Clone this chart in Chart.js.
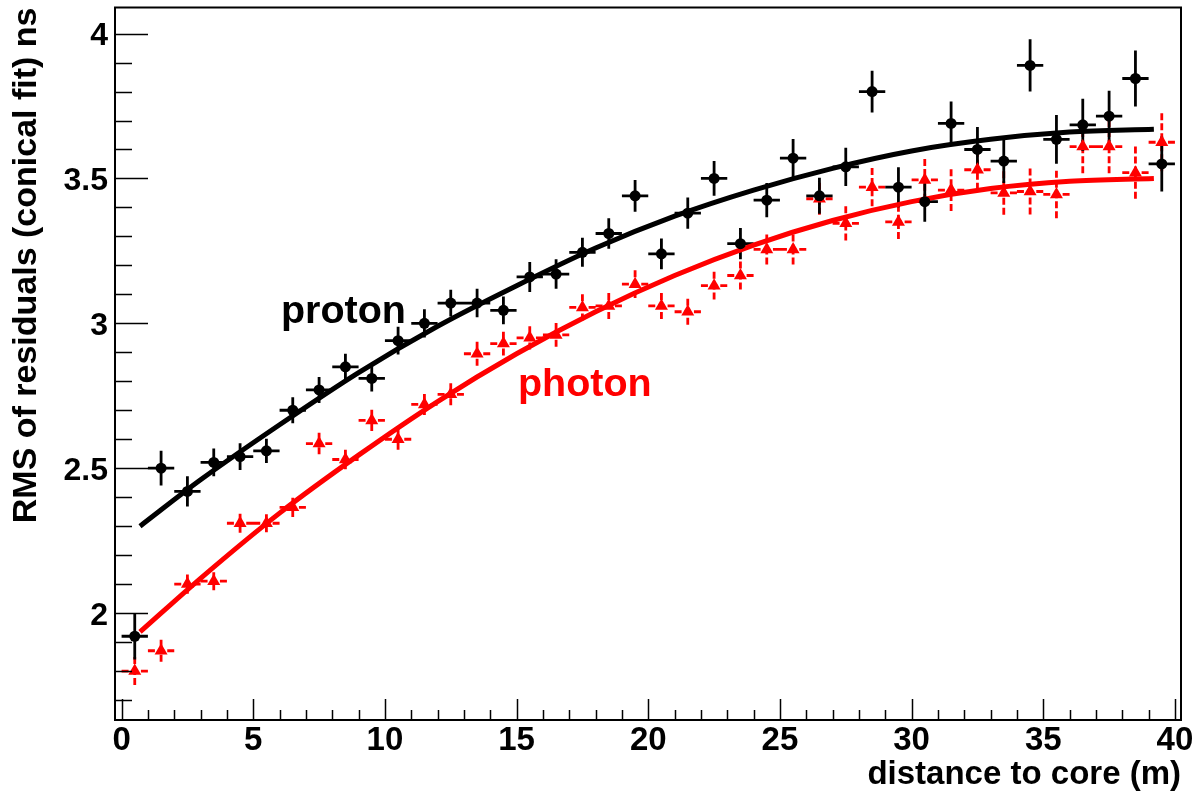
<!DOCTYPE html>
<html>
<head>
<meta charset="utf-8">
<title>RMS of residuals vs distance to core</title>
<script src="https://cdn.jsdelivr.net/npm/chart.js@4.4.1/dist/chart.umd.min.js"></script>
<style>
  html, body { margin: 0; padding: 0; background: #fff; }
  #wrap { position: relative; width: 1196px; height: 793px; }
</style>
</head>
<body>
<div id="wrap"><canvas id="rmsChart"></canvas></div>
<script>
// bin centres, distance to core (m)
const binCenters = [0.5, 1.5, 2.5, 3.5, 4.5, 5.5, 6.5, 7.5, 8.5, 9.5,
                    10.5, 11.5, 12.5, 13.5, 14.5, 15.5, 16.5, 17.5, 18.5, 19.5,
                    20.5, 21.5, 22.5, 23.5, 24.5, 25.5, 26.5, 27.5, 28.5, 29.5,
                    30.5, 31.5, 32.5, 33.5, 34.5, 35.5, 36.5, 37.5, 38.5, 39.5];
const binHalfWidth = 0.5;

// proton: RMS of residuals (ns) and its error
const protonRms = [1.92, 2.50, 2.42, 2.52, 2.54, 2.56, 2.70, 2.77, 2.85, 2.81,
                   2.94, 3.00, 3.07, 3.07, 3.045, 3.16, 3.17, 3.245, 3.31, 3.44,
                   3.24, 3.38, 3.50, 3.275, 3.425, 3.57, 3.44, 3.54, 3.80, 3.47,
                   3.42, 3.69, 3.60, 3.56, 3.89, 3.635, 3.685, 3.715, 3.845, 3.55];
const protonErr = [0.080, 0.060, 0.052, 0.048, 0.046, 0.042, 0.045, 0.045, 0.045, 0.045,
                   0.048, 0.049, 0.046, 0.049, 0.048, 0.052, 0.051, 0.050, 0.053, 0.055,
                   0.053, 0.054, 0.060, 0.054, 0.059, 0.066, 0.062, 0.066, 0.072, 0.069,
                   0.069, 0.076, 0.078, 0.076, 0.090, 0.084, 0.090, 0.088, 0.097, 0.095];

// photon
const photonRms = [1.80, 1.87, 2.10, 2.11, 2.31, 2.31, 2.365, 2.585, 2.53, 2.665,
                   2.60, 2.72, 2.755, 2.895, 2.93, 2.95, 2.96, 3.055, 3.06, 3.135,
                   3.06, 3.04, 3.13, 3.165, 3.255, 3.255, 3.43, 3.345, 3.47, 3.35,
                   3.495, 3.46, 3.53, 3.45, 3.455, 3.445, 3.61, 3.61, 3.52, 3.625];
const photonErr = [0.048, 0.038, 0.033, 0.031, 0.033, 0.031, 0.033, 0.037, 0.034, 0.037,
                   0.036, 0.036, 0.038, 0.041, 0.041, 0.040, 0.041, 0.045, 0.045, 0.048,
                   0.045, 0.045, 0.048, 0.048, 0.052, 0.052, 0.055, 0.059, 0.066, 0.059,
                   0.072, 0.072, 0.069, 0.075, 0.079, 0.082, 0.092, 0.092, 0.090, 0.100];

// fitted curves
const fitX      = [0.7, 3, 6, 9, 12, 15, 18, 21, 24, 27, 30, 33, 36, 39.2];
const protonFit = [2.30, 2.46, 2.65, 2.83, 2.99, 3.13, 3.26, 3.37, 3.46, 3.535, 3.595, 3.635, 3.66, 3.67];
const photonFit = [1.935, 2.12, 2.345, 2.545, 2.73, 2.895, 3.04, 3.165, 3.27, 3.355, 3.42, 3.465, 3.49, 3.50];

// axis ticks
const xMajorTicks = [0, 5, 10, 15, 20, 25, 30, 35, 40];
const xTickLabels = ['0', '5', '10', '15', '20', '25', '30', '35', '40'];
const yMajorTicks = [2, 2.5, 3, 3.5, 4];
const yTickLabels = ['2', '2.5', '3', '3.5', '4'];

// text labels in the plot (data coordinates)
const seriesNames = [
    { text: 'proton', x: 6.05, y: 3.0, color: '#000000' },
    { text: 'photon', x: 15.05, y: 2.748, color: '#ff0000' }
];

const FONT = '"Liberation Sans", Arial, Helvetica, sans-serif';

function toPoints(xs, ys) {
    return xs.map((v, i) => ({ x: v, y: ys[i] }));
}

// error bars (ROOT style crosses) + frame with inward ticks
const rootStyle = {
    id: 'rootStyle',
    beforeDatasetsDraw(chart) {
        const { ctx, chartArea, scales: { x, y } } = chart;
        ctx.save();
        ctx.beginPath();
        ctx.rect(chartArea.left, chartArea.top, chartArea.right - chartArea.left, chartArea.bottom - chartArea.top);
        ctx.clip();
        drawErrors(ctx, x, y, photonRms, photonErr, '#ff0000', [7, 3]);
        drawErrors(ctx, x, y, protonRms, protonErr, '#000000', []);
        ctx.restore();
    },
    afterDatasetsDraw(chart) {
        const { ctx, chartArea: a, scales: { x, y } } = chart;
        ctx.save();
        ctx.strokeStyle = '#000';
        ctx.lineWidth = 1.5;
        ctx.beginPath();
        x.ticks.forEach(t => {
            const px = Math.round(x.getPixelForValue(t.value)) + 0.5;
            const len = xMajorTicks.includes(t.value) ? 21 : 10;
            ctx.moveTo(px, a.bottom);
            ctx.lineTo(px, a.bottom - len);
        });
        y.ticks.forEach(t => {
            const py = Math.round(y.getPixelForValue(t.value)) + 0.5;
            const len = yMajorTicks.includes(t.value) ? 33 : 17;
            ctx.moveTo(a.left, py);
            ctx.lineTo(a.left + len, py);
        });
        ctx.stroke();

        ctx.lineWidth = 2;
        ctx.strokeRect(a.left, a.top, a.right - a.left, a.bottom - a.top);

        // series names
        ctx.font = 'bold 39.5px ' + FONT;
        ctx.textBaseline = 'alphabetic';
        ctx.textAlign = 'left';
        seriesNames.forEach(s => {
            ctx.fillStyle = s.color;
            ctx.fillText(s.text, x.getPixelForValue(s.x), y.getPixelForValue(s.y));
        });
        ctx.restore();
    }
};

// each half of the cross goes from its end in to the point, so dashes start at the ends
function drawErrors(ctx, x, y, values, errs, color, dash) {
    ctx.strokeStyle = color;
    ctx.lineWidth = 2.8;
    ctx.setLineDash(dash);
    ctx.beginPath();
    binCenters.forEach((c, i) => {
        const px = x.getPixelForValue(c);
        const py = y.getPixelForValue(values[i]);
        ctx.moveTo(x.getPixelForValue(c - binHalfWidth), py);
        ctx.lineTo(px, py);
        ctx.moveTo(x.getPixelForValue(c + binHalfWidth), py);
        ctx.lineTo(px, py);
        ctx.moveTo(px, y.getPixelForValue(values[i] - errs[i]));
        ctx.lineTo(px, py);
        ctx.moveTo(px, y.getPixelForValue(values[i] + errs[i]));
        ctx.lineTo(px, py);
    });
    ctx.stroke();
    ctx.setLineDash([]);
}

new Chart(document.getElementById('rmsChart'), {
    type: 'scatter',
    data: {
        datasets: [
            { label: 'proton', data: toPoints(binCenters, protonRms), pointStyle: 'circle', pointRadius: 5.5,
              backgroundColor: '#000', borderColor: '#000', borderWidth: 0, order: 0 },
            { label: 'photon', data: toPoints(binCenters, photonRms), pointStyle: 'triangle', pointRadius: 7.5,
              backgroundColor: '#ff0000', borderColor: '#ff0000', borderWidth: 0, order: 1 },
            { label: 'proton fit', data: toPoints(fitX, protonFit), showLine: true, pointRadius: 0,
              borderColor: '#000', borderWidth: 5, cubicInterpolationMode: 'monotone', order: 2 },
            { label: 'photon fit', data: toPoints(fitX, photonFit), showLine: true, pointRadius: 0,
              borderColor: '#ff0000', borderWidth: 5, cubicInterpolationMode: 'monotone', order: 3 }
        ]
    },
    options: {
        responsive: true,
        maintainAspectRatio: false,
        animation: false,
        layout: { padding: { top: 7, right: 15, left: 0, bottom: 0 } },
        plugins: { legend: { display: false }, tooltip: { enabled: false } },
        scales: {
            x: {
                type: 'linear',
                min: -0.25,
                max: 40.23,
                afterBuildTicks(scale) {
                    const t = [];
                    for (let k = 0; k <= 40; k++) t.push({ value: k });
                    scale.ticks = t;
                },
                afterFit(scale) {
                    scale.height = 73;
                    scale.paddingLeft = 0;
                    scale.paddingRight = 0;
                },
                grid: { display: false, drawTicks: false },
                border: { display: false },
                ticks: {
                    autoSkip: false, maxRotation: 0, padding: 1, color: '#000',
                    font: { family: FONT, size: 33, weight: 'bold', lineHeight: 1.2 },
                    callback(v) {
                        const i = xMajorTicks.indexOf(v);
                        return i >= 0 ? xTickLabels[i] : '';
                    }
                },
                title: {
                    display: true, text: 'distance to core (m)', align: 'end', color: '#000',
                    padding: { top: 0, bottom: -2 },
                    font: { family: FONT, size: 33, weight: 'bold', lineHeight: 1.2 }
                }
            },
            y: {
                type: 'linear',
                min: 1.631,
                max: 4.09,
                afterBuildTicks(scale) {
                    const t = [];
                    for (let k = 17; k <= 40; k++) t.push({ value: k / 10 });
                    scale.ticks = t;
                },
                afterFit(scale) {
                    scale.width = 115;
                    scale.paddingTop = 0;
                    scale.paddingBottom = 0;
                },
                grid: { display: false, drawTicks: false },
                border: { display: false },
                ticks: {
                    autoSkip: false, padding: 7, labelOffset: 3, color: '#000',
                    font: { family: FONT, size: 32, weight: 'bold', lineHeight: 1.2 },
                    callback(v) {
                        const i = yMajorTicks.indexOf(v);
                        return i >= 0 ? yTickLabels[i] : '';
                    }
                },
                title: {
                    display: true, text: 'RMS of residuals (conical fit) ns', align: 'end', color: '#000',
                    padding: { top: 6, bottom: 0 },
                    font: { family: FONT, size: 34, weight: 'bold', lineHeight: 1.2 }
                }
            }
        }
    },
    plugins: [rootStyle]
});
</script>
</body>
</html>
